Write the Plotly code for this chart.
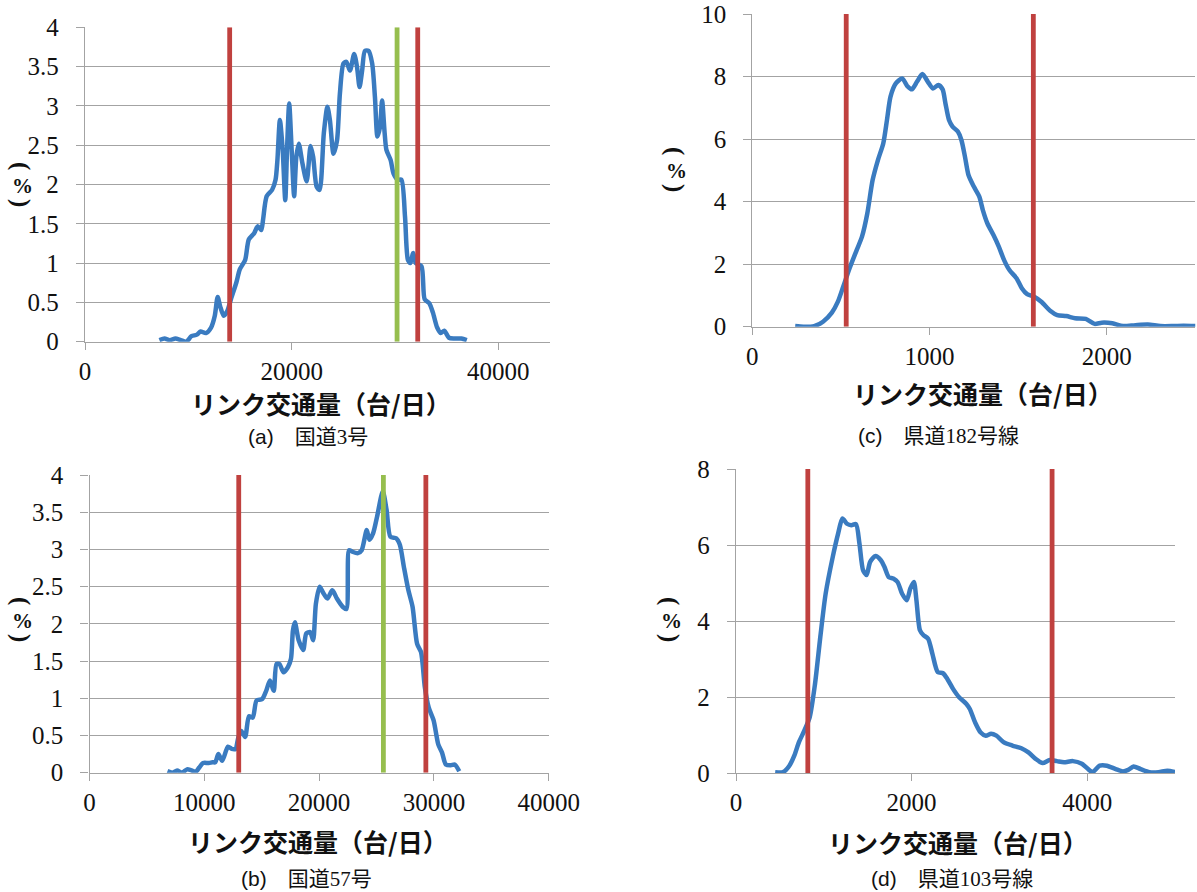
import plotly.graph_objects as go

W, H = 1197, 892

# ---- (a) 国道3号 ----
a_x = [7200, 7700, 8200, 8750, 9270, 9800, 10300, 10830, 11180, 11700, 12200, 12560, 12840, 13080,
       13430, 13770, 14120, 14640, 14980, 15500, 15850, 16370, 16710, 17060, 17230, 17580, 18100,
       18440, 18620, 18860, 19130, 19380, 19550, 19760, 20000, 20240, 20450, 20690, 21040, 21450,
       21830, 22080, 22420, 22700, 23110, 23460, 23700, 24050, 24390, 24670, 25010, 25290, 25640,
       26050, 26330, 26570, 26820, 27090, 27440, 27790, 28060, 28300, 28550, 28750, 29000, 29170,
       29580, 29860, 30280, 30620, 30970, 31250, 31490, 31760, 32010, 32560, 32870, 33320, 33670,
       34080, 34430, 34770, 35220, 35740, 36430, 36950]
a_y = [0.02, 0.04, 0.02, 0.04, 0.02, 0.0, 0.07, 0.09, 0.13, 0.11, 0.18, 0.33, 0.57, 0.45, 0.33, 0.39,
       0.54, 0.75, 0.92, 1.04, 1.30, 1.38, 1.47, 1.42, 1.55, 1.85, 1.93, 2.06, 2.31, 2.82, 2.44, 1.80,
       2.44, 3.03, 2.44, 1.85, 2.35, 2.52, 2.27, 2.04, 2.49, 2.35, 1.97, 1.93, 2.65, 2.99, 2.82, 2.39,
       2.56, 3.16, 3.54, 3.56, 3.45, 3.66, 3.49, 3.24, 3.45, 3.70, 3.70, 3.54, 3.11, 2.61, 2.73, 3.07,
       2.65, 2.44, 2.31, 2.14, 2.06, 2.06, 1.59, 1.04, 1.00, 1.13, 1.00, 0.96, 0.54, 0.49, 0.37, 0.18,
       0.11, 0.14, 0.05, 0.04, 0.04, 0.02]
a_red = [14000, 32200]
a_green = [30200]

# ---- (b) 国道57号 ----
b_x = [6790, 7230, 7630, 8060, 8490, 8890, 9230, 9560, 9890, 10390, 10720, 10960, 11220, 11560,
       12060, 12390, 12720, 12960, 13220, 13560, 13890, 14220, 14550, 15050, 15390, 15720, 16050,
       16290, 16550, 16890, 17290, 17550, 17720, 17890, 18220, 18620, 18880, 19220, 19480, 19720,
       20050, 20380, 20720, 21150, 21550, 22050, 22380, 22610, 22880, 23380, 23710, 24150, 24380,
       24710, 25050, 25550, 25880, 26210, 26710, 27040, 27380, 27780, 28140, 28540, 28880, 29210,
       29540, 29980, 30380, 30710, 31040, 31470, 31810, 32210]
b_y = [0.02, 0.0, 0.03, 0.0, 0.045, 0.03, 0.01, 0.07, 0.13, 0.13, 0.14, 0.14, 0.25, 0.16, 0.35, 0.32,
       0.32, 0.47, 0.56, 0.48, 0.76, 0.74, 0.97, 0.99, 1.10, 1.24, 1.10, 1.46, 1.46, 1.35, 1.42, 1.53,
       1.91, 2.02, 1.78, 1.65, 1.87, 1.89, 1.78, 2.27, 2.50, 2.41, 2.34, 2.45, 2.34, 2.23, 2.20, 2.99,
       2.97, 2.95, 2.99, 3.26, 3.13, 3.22, 3.44, 3.78, 3.53, 3.17, 3.15, 3.06, 2.77, 2.45, 2.23, 1.73,
       1.62, 1.15, 0.88, 0.70, 0.38, 0.27, 0.11, 0.10, 0.11, 0.02]
b_red = [13000, 29300]
b_green = [25600]

# ---- (c) 県道182号線 ----
c_x = [242, 289, 349, 399, 449, 483, 513, 549, 589, 619, 649, 679, 709, 739, 760, 780, 810, 846, 874,
       900, 930, 960, 990, 1020, 1050, 1074, 1090, 1110, 1130, 1160, 1180, 1200, 1220, 1250, 1281,
       1301, 1327, 1361, 1391, 1421, 1451, 1491, 1521, 1551, 1591, 1631, 1681, 1721, 1772, 1822,
       1882, 1932, 1972, 2032, 2092, 2162, 2232, 2303, 2373, 2433, 2503]
c_y = [0.02, 0.0, 0.02, 0.16, 0.45, 0.80, 1.28, 1.87, 2.45, 2.88, 3.62, 4.69, 5.33, 5.86, 6.61, 7.36,
       7.78, 7.94, 7.70, 7.59, 7.84, 8.08, 7.84, 7.62, 7.73, 7.59, 7.14, 6.61, 6.40, 6.24, 5.97, 5.44,
       4.85, 4.48, 4.16, 3.73, 3.30, 2.93, 2.56, 2.13, 1.81, 1.55, 1.23, 1.04, 0.96, 0.80, 0.51, 0.37,
       0.34, 0.27, 0.25, 0.09, 0.13, 0.11, 0.02, 0.05, 0.07, 0.02, 0.02, 0.03, 0.02]
c_red = [530, 1586]

# ---- (d) 県道103号線 ----
d_x = [446, 535, 608, 665, 717, 778, 839, 900, 960, 1021, 1102, 1163, 1212, 1264, 1313, 1366, 1406,
       1447, 1487, 1528, 1589, 1650, 1690, 1739, 1791, 1840, 1892, 1945, 1986, 2026, 2055, 2095,
       2136, 2188, 2237, 2298, 2358, 2407, 2472, 2541, 2622, 2663, 2723, 2784, 2845, 2905, 2966,
       3047, 3148, 3250, 3331, 3412, 3493, 3574, 3655, 3736, 3837, 3939, 4020, 4061, 4142, 4223,
       4325, 4406, 4467, 4528, 4609, 4710, 4812, 4913, 5000]
d_y = [0.03, 0.03, 0.20, 0.47, 0.82, 1.12, 1.47, 2.35, 3.58, 4.72, 5.69, 6.30, 6.70, 6.56, 6.52, 6.55,
       6.04, 5.34, 5.21, 5.56, 5.71, 5.60, 5.43, 5.16, 5.12, 5.03, 4.72, 4.55, 4.86, 5.03, 4.55, 3.76,
       3.63, 3.54, 3.14, 2.66, 2.63, 2.48, 2.22, 2.00, 1.83, 1.69, 1.34, 1.08, 0.99, 1.04, 0.99, 0.82,
       0.73, 0.66, 0.55, 0.38, 0.27, 0.35, 0.32, 0.29, 0.32, 0.25, 0.09, 0.03, 0.20, 0.20, 0.11, 0.05,
       0.09, 0.18, 0.11, 0.03, 0.03, 0.07, 0.03]
d_red = [818, 3600]

captions = ["(a)", "(b)", "(c)", "(d)"]
names = ["国道3号", "国道57号", "県道182号線", "県道103号線"]
x_title = "リンク交通量（台/日）"

BLUE = "#3A7BC0"
RED = "#C0413F"
GREEN = "#96BE4E"
GRID = "#A3A3A3"
SERIF = "Liberation Serif, Times New Roman, serif"
GOTHIC = "Noto Sans CJK JP, sans-serif"

# panel boxes in pixels: left, right, top, bottom
panels = [
    dict(key="", box=(85, 550, 27.3, 341.7), x=a_x, y=a_y, red=a_red, green=a_green,
         xr=[0, 45000], xd=20000, yr=[0, 4], yd=0.5),
    dict(key="2", box=(89.5, 548.7, 475, 772.7), x=b_x, y=b_y, red=b_red, green=b_green,
         xr=[0, 40000], xd=10000, yr=[0, 4], yd=0.5),
    dict(key="3", box=(752.3, 1195.3, 14, 326.7), x=c_x, y=c_y, red=c_red, green=[],
         xr=[0, 2500], xd=1000, yr=[0, 10], yd=2),
    dict(key="4", box=(736, 1175, 469, 773.3), x=d_x, y=d_y, red=d_red, green=[],
         xr=[0, 5000], xd=2000, yr=[0, 8], yd=2),
]

fig = go.Figure()

for p in panels:
    k = p["key"]
    xa, ya = "x" + k, "y" + k
    fig.add_trace(go.Scatter(
        x=p["x"], y=p["y"], xaxis=xa, yaxis=ya, mode="lines",
        line=dict(color=BLUE, width=4.5, shape="spline", smoothing=0.7),
        showlegend=False, hoverinfo="skip"))
    top = p["yr"][1]
    for v in p["red"]:
        fig.add_trace(go.Scatter(x=[v, v], y=[0, top], xaxis=xa, yaxis=ya, mode="lines",
                                 line=dict(color=RED, width=4.8), showlegend=False,
                                 hoverinfo="skip"))
    for v in p["green"]:
        fig.add_trace(go.Scatter(x=[v, v], y=[0, top], xaxis=xa, yaxis=ya, mode="lines",
                                 line=dict(color=GREEN, width=4.8), showlegend=False,
                                 hoverinfo="skip"))

    l, r, t, b = p["box"]
    fig.layout["xaxis" + k] = dict(
        domain=[l / W, r / W], anchor=ya, range=p["xr"], dtick=p["xd"], tick0=0,
        tickformat="d", automargin=False,
        showgrid=False, zeroline=False, showline=True, linecolor=GRID, linewidth=1.3,
        ticks="outside", ticklen=7, tickwidth=1.3, tickcolor=GRID,
        tickfont=dict(family=SERIF, size=25, color="#111"), ticklabelstandoff=0,
        fixedrange=True)
    fig.layout["yaxis" + k] = dict(
        domain=[1 - b / H, 1 - t / H], anchor=xa, range=p["yr"], dtick=p["yd"], tick0=0,
        automargin=False,
        showgrid=True, gridcolor=GRID, gridwidth=1.3, zeroline=False,
        showline=True, linecolor=GRID, linewidth=1.3,
        ticks="outside", ticklen=8, tickwidth=1.3, tickcolor=GRID,
        tickfont=dict(family=SERIF, size=25, color="#111"), ticklabelstandoff=12,
        fixedrange=True)


def add_text(text, px, py, size, family, bold=False, color="#111", angle=0):
    fig.add_annotation(
        x=px / W, y=1 - py / H, xref="paper", yref="paper", text=text, showarrow=False,
        xanchor="center", yanchor="middle", textangle=angle,
        font=dict(family=family, size=size, color=color, weight="bold" if bold else "normal"))


# x-axis titles
for px, py in [(321, 403), (318, 841), (983, 393), (958, 842)]:
    add_text(x_title, px, py, 25, GOTHIC, bold=True)

# vertical "(%)" labels: brackets turned sideways, percent sign upright
for px, pc in [(21, 186), (21, 621), (675, 171), (670, 621)]:
    add_text("(", px, pc - 20, 25, SERIF, bold=True, angle=90)
    add_text("%", px + 1, pc, 21, SERIF, bold=True)
    add_text(")", px, pc + 17, 25, SERIF, bold=True, angle=90)

# panel captions
for (px, py), cap, nm in zip([(308, 437), (306, 879), (938, 436), (952, 879)], captions, names):
    add_text('<span style="font-family:Liberation Sans, Arial, sans-serif">' + cap +
             "</span>\u3000" + nm, px, py, 21, "Liberation Serif, Noto Sans CJK JP, serif")

fig.update_layout(
    width=W, height=H, margin=dict(l=0, r=0, t=0, b=0),
    paper_bgcolor="white", plot_bgcolor="white", showlegend=False,
)

fig.write_html("out.html", config=dict(displayModeBar=False))
